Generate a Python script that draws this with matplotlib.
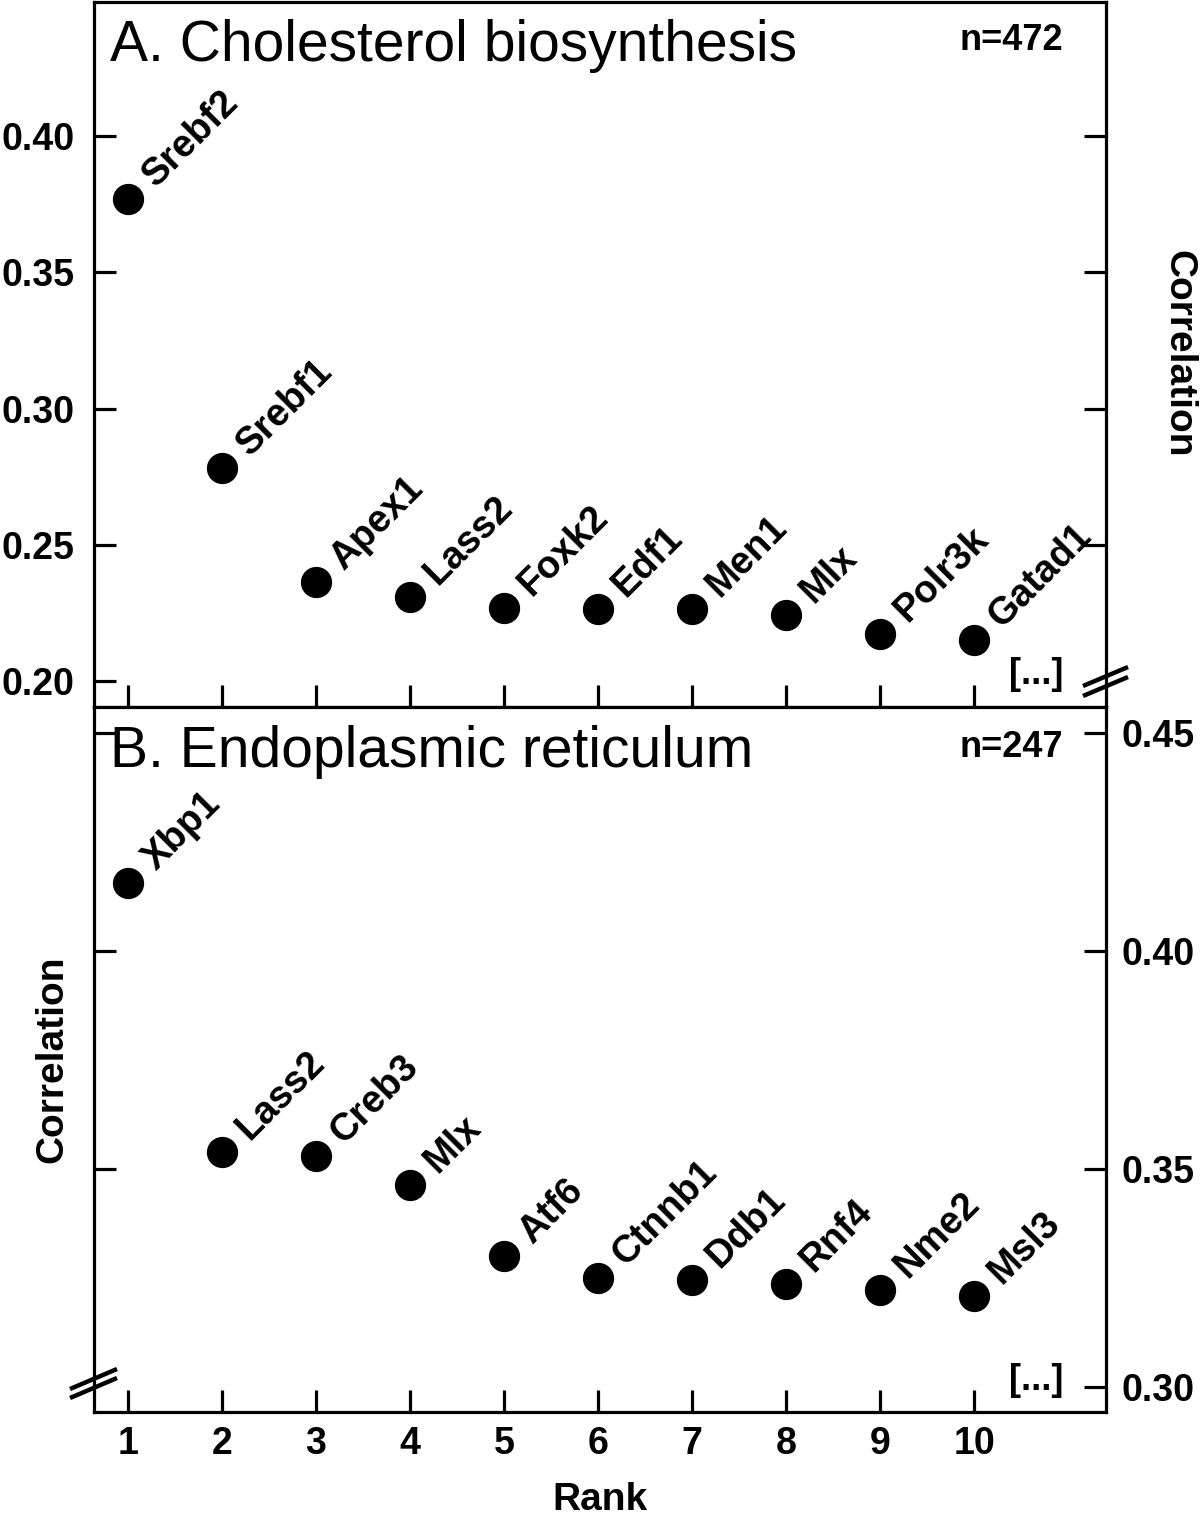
import matplotlib
matplotlib.use("Agg")
import matplotlib.pyplot as plt
from matplotlib.lines import Line2D

plt.rcParams['font.family'] = ['Liberation Sans', 'DejaVu Sans']

# ---------------- data ----------------
ranks = [1, 2, 3, 4, 5, 6, 7, 8, 9, 10]

genes_a = ["Srebf2", "Srebf1", "Apex1", "Lass2", "Foxk2", "Edf1", "Men1", "Mlx", "Polr3k", "Gatad1"]
corr_a = [0.377, 0.2782, 0.2363, 0.2308, 0.2268, 0.2264, 0.2264, 0.2242, 0.2172, 0.2150]

genes_b = ["Xbp1", "Lass2", "Creb3", "Mlx", "Atf6", "Ctnnb1", "Ddb1", "Rnf4", "Nme2", "Msl3"]
corr_b = [0.4157, 0.3539, 0.3530, 0.3463, 0.3300, 0.3250, 0.3245, 0.3236, 0.3222, 0.3209]

title_a = "A. Cholesterol biosynthesis"
title_b = "B. Endoplasmic reticulum"
n_a = "n=472"
n_b = "n=247"

yticks_a = [0.20, 0.25, 0.30, 0.35, 0.40]
yticks_b = [0.30, 0.35, 0.40, 0.45]
ytick_labels_a = ["0.20", "0.25", "0.30", "0.35", "0.40"]
ytick_labels_b = ["0.30", "0.35", "0.40", "0.45"]

# ---------------- layout ----------------
W, H = 1200, 1515
fig = plt.figure(figsize=(W / 100, H / 100), dpi=100)

def px_axes(x0, y0, x1, y1):
    return fig.add_axes([x0 / W, 1 - y1 / H, (x1 - x0) / W, (y1 - y0) / H])

axA = px_axes(94, 1.5, 1106, 707)
axB = px_axes(94, 707, 1106, 1412)

LW = 2.3
TICK_LEN = 16
FS_TICK = 27
FS_GENE = 27.5

for ax in (axA, axB):
    ax.set_xlim(0.638, 11.404)
    for s in ax.spines.values():
        s.set_linewidth(LW)
    ax.set_xticks(ranks)
    ax.tick_params(axis='both', direction='in', length=TICK_LEN, width=LW,
                   labelsize=FS_TICK)

axA.set_ylim(0.1905, 0.4494)
axB.set_ylim(0.29427, 0.45596)

# Panel A: left labels, right ticks only
axA.set_yticks(yticks_a)
axA.set_yticklabels(ytick_labels_a, fontweight='bold', fontsize=FS_TICK)
axA.tick_params(axis='y', left=True, right=True, labelleft=True, labelright=False, pad=14)
axA.tick_params(axis='x', bottom=True, labelbottom=False)
axA.yaxis.get_major_ticks()[0].tick2line.set_visible(False)

# Panel B: right labels, left ticks
axB.set_yticks(yticks_b)
axB.set_yticklabels(ytick_labels_b, fontweight='bold', fontsize=FS_TICK)
axB.tick_params(axis='y', left=True, right=True, labelleft=False, labelright=True, pad=11)
axB.tick_params(axis='x', bottom=True, labelbottom=True, pad=10)
for lab in axB.get_xticklabels():
    lab.set_fontweight('bold')
axB.yaxis.get_major_ticks()[0].tick1line.set_visible(False)

# points and labels
for ax, genes, vals in ((axA, genes_a, corr_a), (axB, genes_b, corr_b)):
    ax.plot(ranks, vals, linestyle='none', marker='o', markersize=21.5,
            color='black', clip_on=False, zorder=3)
    for r, v, g in zip(ranks, vals, genes):
        ax.annotate(g, (r, v), xytext=(20, 8), textcoords='offset points',
                    rotation=45, rotation_mode='anchor', ha='left', va='baseline',
                    fontsize=FS_GENE, fontweight='bold')

# titles
axA.text(0.0158, (707 - 61) / 705.5, title_a, transform=axA.transAxes,
         fontsize=41, ha='left', va='baseline')
axB.text(0.0158, (1412 - 767) / 705, title_b, transform=axB.transAxes,
         fontsize=41, ha='left', va='baseline')
axA.text((1063 - 94) / 1012, (707 - 50) / 705.5, n_a, transform=axA.transAxes,
         fontsize=26, fontweight='bold', ha='right', va='baseline')
axB.text((1063 - 94) / 1012, (1412 - 757) / 705, n_b, transform=axB.transAxes,
         fontsize=26, fontweight='bold', ha='right', va='baseline')

# [...] markers
axA.text((1063 - 94) / 1012, (707 - 684) / 705.5, "[...]", transform=axA.transAxes,
         fontsize=26, fontweight='bold', ha='right', va='baseline')
axB.text((1063 - 94) / 1012, (1412 - 1390) / 705, "[...]", transform=axB.transAxes,
         fontsize=26, fontweight='bold', ha='right', va='baseline')

# axis labels
axA.text((1178 - 94) / 1012, 0.5, "Correlation", transform=axA.transAxes,
         rotation=-90, fontsize=28, fontweight='bold', ha='center', va='center')
axB.text((52 - 94) / 1012, 0.5, "Correlation", transform=axB.transAxes,
         rotation=90, fontsize=28, fontweight='bold', ha='center', va='center')
fig.text(600 / W, 1 - 1510 / H, "Rank", fontsize=28, fontweight='bold',
         ha='center', va='baseline')

# axis break marks (figure pixel geometry)
def brk(x0, y0, x1, y1):
    fig.add_artist(Line2D([x0 / W, x1 / W], [1 - y0 / H, 1 - y1 / H],
                          color='black', lw=3.2, transform=fig.transFigure,
                          solid_capstyle='butt'))

brk(1083, 686, 1128, 667)
brk(1083, 696, 1128, 677)
brk(70, 1389, 117, 1369)
brk(70, 1398, 117, 1378)

fig.savefig("out.png", dpi=100)
